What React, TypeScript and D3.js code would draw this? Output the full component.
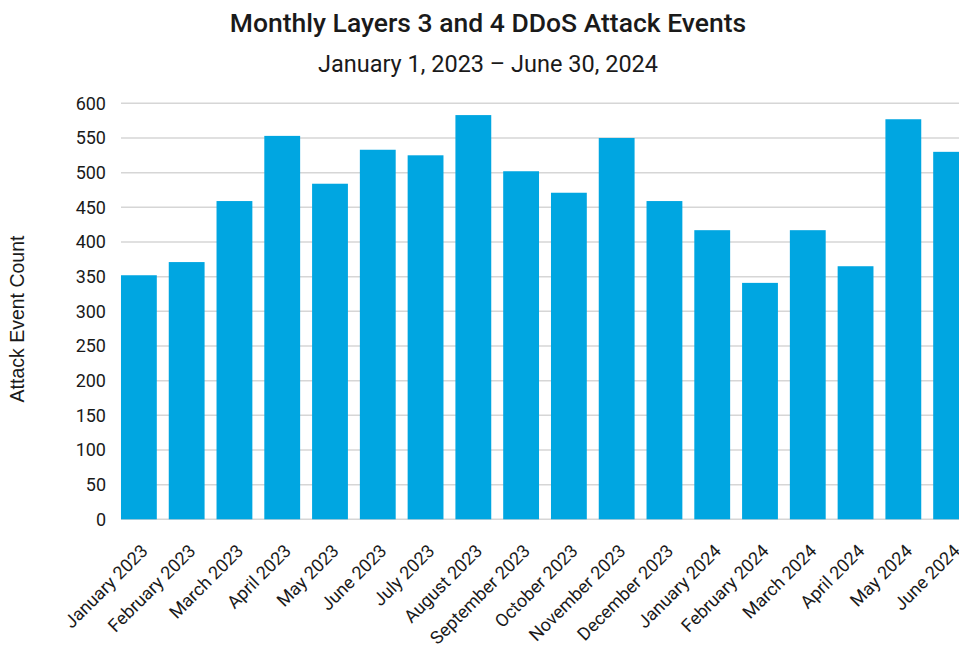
import React from "react";
import * as d3 from "d3";

const months = [
  "January 2023", "February 2023", "March 2023", "April 2023", "May 2023", "June 2023",
  "July 2023", "August 2023", "September 2023", "October 2023", "November 2023", "December 2023",
  "January 2024", "February 2024", "March 2024", "April 2024", "May 2024", "June 2024",
];
const attackEvents = [352, 371, 459, 553, 484, 533, 525, 583, 502, 471, 550, 459, 417, 341, 417, 365, 577, 530];
const yTicks = [0, 50, 100, 150, 200, 250, 300, 350, 400, 450, 500, 550, 600];
const title = "Monthly Layers 3 and 4 DDoS Attack Events";
const subtitle = "January 1, 2023 – June 30, 2024";
const yLabel = "Attack Event Count";

const W = 959;
const H = 649;

export default function App() {
  const x = d3.scaleBand<string>().domain(months).range([115, 975]).paddingInner(0.25).paddingOuter(0.125);
  const y = d3.scaleLinear().domain([0, 600]).range([519.3, 103.3]);
  const font = "Roboto, 'Liberation Sans', Arial, sans-serif";
  return (
    <svg width={W} height={H} style={{ position: "absolute", left: 0, top: 0 }} fontFamily={font}>
      <rect width={W} height={H} fill="#fff" />
      <text x={488} y={32} textAnchor="middle" fontSize={26.5} fontWeight={500} fill="#1a1a1a">{title}</text>
      <text x={488} y={72} textAnchor="middle" fontSize={23.5} fill="#1a1a1a">{subtitle}</text>
      {yTicks.map((t) => (
        <g key={t}>
          <line x1={121} x2={W} y1={y(t)} y2={y(t)} stroke="#d6d6d6" strokeWidth={1.5} />
          <text x={106} y={y(t)} dy="0.36em" textAnchor="end" fontSize={18} fill="#1a1a1a">{t}</text>
        </g>
      ))}
      {months.map((m, i) => (
        <rect key={m} x={x(m)} y={y(attackEvents[i])} width={x.bandwidth()} height={y(0) - y(attackEvents[i])} fill="#00a6e1" />
      ))}
      {months.map((m) => {
        const cx = (x(m) as number) + x.bandwidth() / 2;
        return (
          <text key={m} transform={`translate(${cx + 10},${552}) rotate(-45)`} textAnchor="end" fontSize={18} fill="#1a1a1a">{m}</text>
        );
      })}
      <text transform={`translate(24,319) rotate(-90)`} textAnchor="middle" fontSize={19.5} fontFamily="'Liberation Sans', Arial, sans-serif" fill="#1a1a1a">{yLabel}</text>
    </svg>
  );
}
